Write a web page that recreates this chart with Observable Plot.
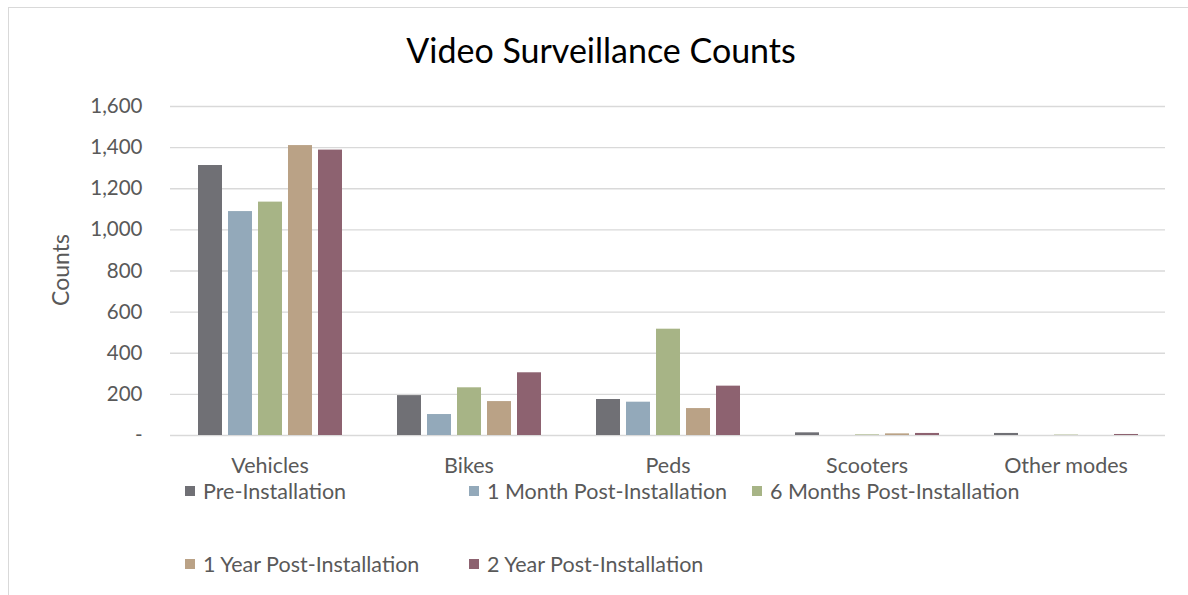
<!DOCTYPE html>
<html>
<head>
<meta charset="utf-8">
<script src="https://cdn.jsdelivr.net/npm/d3@7"></script>
<script src="https://cdn.jsdelivr.net/npm/@observablehq/plot@0.6"></script>
<style>
  body { margin: 0; background: #fff; }
  #wrap { position: relative; width: 1188px; height: 595px; overflow: hidden; background: #fff; font-family: Lato, "Open Sans", sans-serif; }
  #frame { position: absolute; left: 8px; top: 7px; width: 1200px; height: 620px; border: 1.5px solid #d9d9d9; box-sizing: border-box; }
  #title { position: absolute; left: 0; width: 1202px; top: 33px; text-align: center; font-size: 34px; line-height: 34px; color: #000; }
  #ylabel { position: absolute; left: 60px; top: 270px; transform: translate(-50%, -50%) rotate(-90deg); font-size: 23px; color: #595959; white-space: nowrap; }
  #chart { position: absolute; left: 0; top: 0; }
  .lg { position: absolute; height: 24px; line-height: 24px; font-size: 21.5px; color: #595959; white-space: nowrap; }
  .lg span.sw { position: absolute; left: 0; top: 7px; width: 10px; height: 10px; }
  .lg span.tx { position: absolute; left: 18px; top: 0; }
</style>
</head>
<body>
<div id="wrap">
  <div id="frame"></div>
  <div id="title">Video Surveillance Counts</div>
  <div id="ylabel">Counts</div>
  <div id="chart"></div>
  <div id="legend"></div>
</div>
<script>
const modes = ["Vehicles", "Bikes", "Peds", "Scooters", "Other modes"];
const series = ["Pre-Installation", "1 Month Post-Installation", "6 Months Post-Installation", "1 Year Post-Installation", "2 Year Post-Installation"];
const colors = ["#707075", "#93a9ba", "#a7b486", "#baa286", "#8d6270"];
const preInstallation = [1313, 194, 175, 13, 10];
const oneMonth = [1089, 102, 162, 0, 0];
const sixMonths = [1135, 232, 517, 3, 2];
const oneYear = [1410, 165, 131, 8, 0];
const twoYear = [1388, 305, 240, 10, 5];
const yTicks = [0, 200, 400, 600, 800, 1000, 1200, 1400, 1600];

const seriesValues = [preInstallation, oneMonth, sixMonths, oneYear, twoYear];
const data = [];
modes.forEach((m, i) => {
  series.forEach((s, j) => {
    data.push({mode: m, series: s, value: seriesValues[j][i]});
  });
});

const fmt = d3.format(",");
const chart = Plot.plot({
  width: 1188,
  height: 480,
  marginTop: 106,
  marginBottom: 45,
  marginLeft: 170,
  marginRight: 23,
  style: {fontFamily: "Lato, 'Open Sans', sans-serif", background: "transparent"},
  fx: {domain: modes, padding: 0, label: null},
  x: {domain: series, paddingInner: 0.2, paddingOuter: 0.86, axis: null},
  y: {domain: [0, 1600], ticks: yTicks, label: null},
  color: {domain: series, range: colors},
  marks: [
    Plot.ruleY(yTicks, {stroke: "#d9d9d9", strokeWidth: 1.3}),
    Plot.barY(data, {fx: "mode", x: "series", y: "value", fill: "series"}),
    Plot.axisY({ticks: yTicks, tickSize: 0, tickPadding: 28, tickFormat: d => d === 0 ? "-" : fmt(d), fontSize: 20.5, fill: "#595959", label: null}),
    Plot.axisFx({anchor: "bottom", tickSize: 0, tickPadding: 22, fontSize: 21.5, fill: "#595959", label: null})
  ]
});
document.getElementById("chart").appendChild(chart);

const legendPos = [[185, 479], [469, 479], [752, 479], [185, 552], [469, 552]];
const legend = document.getElementById("legend");
series.forEach((s, i) => {
  const item = document.createElement("div");
  item.className = "lg";
  item.style.left = legendPos[i][0] + "px";
  item.style.top = legendPos[i][1] + "px";
  const sw = document.createElement("span");
  sw.className = "sw";
  sw.style.background = colors[i];
  const tx = document.createElement("span");
  tx.className = "tx";
  tx.textContent = s;
  item.appendChild(sw);
  item.appendChild(tx);
  legend.appendChild(item);
});
</script>
</body>
</html>
